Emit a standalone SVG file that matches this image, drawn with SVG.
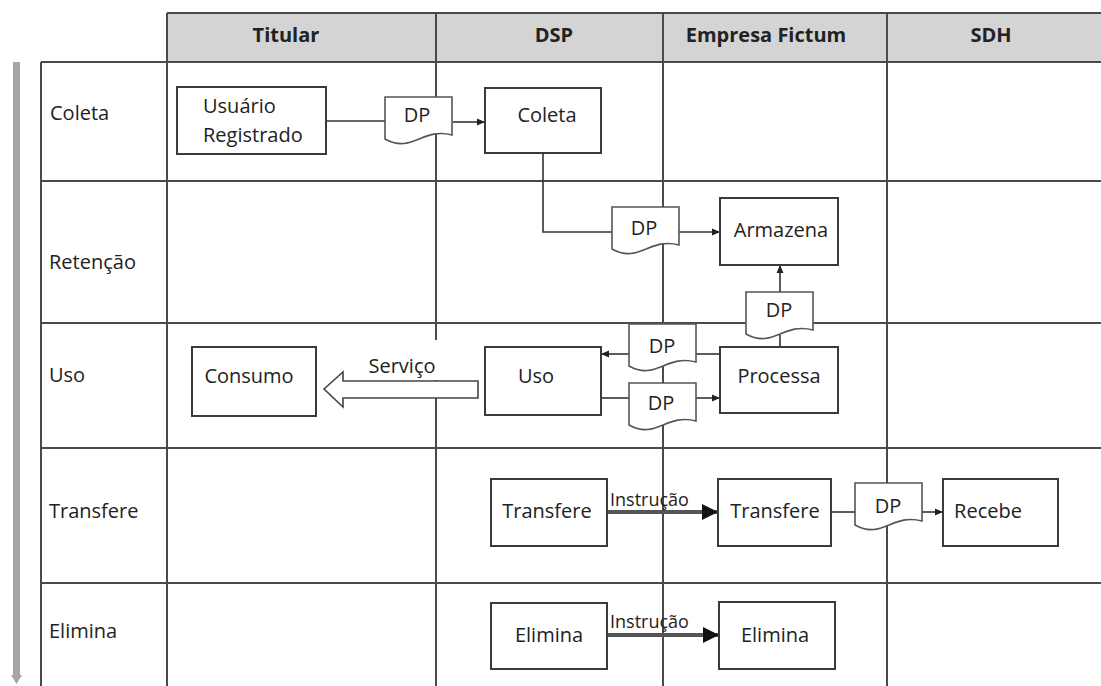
<svg xmlns="http://www.w3.org/2000/svg" width="1101" height="686" viewBox="0 0 1101 686">
<style>
  .grid{stroke:#4a4a4a;stroke-width:2;fill:none}
  .box{fill:#fff;stroke:#3a3a3a;stroke-width:2}
  .doc{fill:#fff;stroke:#555;stroke-width:1.6}
  .t{font-family:"Open Sans","Liberation Sans",sans-serif;font-size:20px;fill:#222}
  .h{font-family:"Open Sans","Liberation Sans",sans-serif;font-size:20px;font-weight:bold;fill:#222;text-anchor:middle}
  .c{text-anchor:middle}
  .ln{stroke:#333;stroke-width:1.6;fill:none}
  .thick{stroke:#555;stroke-width:4;fill:none}
  .small{font-size:18px}
</style>
<defs>
  <marker id="arr" markerUnits="userSpaceOnUse" markerWidth="9" markerHeight="8" refX="8" refY="4" orient="auto">
    <path d="M0,0.5 L8,4 L0,7.5 Z" fill="#222"/>
  </marker>
  <marker id="bigarr" markerUnits="userSpaceOnUse" markerWidth="17" markerHeight="17" refX="16" refY="8" orient="auto">
    <path d="M0,0 L16,8 L0,16 Z" fill="#111"/>
  </marker>
  <path id="docshape" d="M0,0 H67 V38 C37,30 27,57 0,42 Z"/>
</defs>
<rect width="1101" height="686" fill="#fff"/>

<!-- swimlane grid -->
<g id="grid">
  <rect x="167" y="13" width="940" height="49" fill="#d4d4d4"/>
  <path class="grid" d="M167,13 H1101 M41,62 H1101 M41,181 H1101 M41,323 H1101 M41,448 H1101 M41,583 H1101"/>
  <path class="grid" d="M41,62 V686 M167,13 V686 M436,13 V686 M663,13 V686 M887,13 V686"/>
  <rect x="13" y="62" width="7" height="614" fill="#a6a6a6"/>
  <path d="M11,675 H22 L16.5,684 Z" fill="#a6a6a6"/>
  <text class="h" x="286" y="42">Titular</text>
  <text class="h" x="554" y="42">DSP</text>
  <text class="h" x="766" y="42">Empresa Fictum</text>
  <text class="h" x="991" y="42">SDH</text>
  <text class="t" x="50" y="120">Coleta</text>
  <text class="t" x="49" y="269">Retenção</text>
  <text class="t" x="49" y="382">Uso</text>
  <text class="t" x="49" y="518">Transfere</text>
  <text class="t" x="49" y="638">Elimina</text>
</g>

<!-- connectors -->
<g id="connectors">
  <path class="ln" d="M326,121 H385"/>
  <path class="ln" d="M453,122 H485" marker-end="url(#arr)"/>
  <path class="ln" d="M543,153 V232 H612"/>
  <path class="ln" d="M679,232 H720" marker-end="url(#arr)"/>
  <path class="ln" d="M780,348 V335"/>
  <path class="ln" d="M780,292 V265" marker-end="url(#arr)"/>
  <path class="ln" d="M720,354 H696"/>
  <path class="ln" d="M629,354 H601" marker-end="url(#arr)"/>
  <path class="ln" d="M601,398 H629"/>
  <path class="ln" d="M696,398 H720" marker-end="url(#arr)"/>
  <path class="ln" d="M831,512 H855"/>
  <path class="ln" d="M921,512 H943" marker-end="url(#arr)"/>
  <path class="thick" d="M607,512 H718" marker-end="url(#bigarr)"/>
  <path class="thick" d="M607,635 H719" marker-end="url(#bigarr)"/>
  <text class="t small" x="610" y="506">Instrução</text>
  <text class="t small" x="610" y="628">Instrução</text>
  <rect x="364" y="340" width="76" height="40" fill="#fff"/>
  <text class="t c" x="402" y="373">Serviço</text>
  <polygon points="324,389 343,372 343,381 478,381 478,398 343,398 343,407" fill="#fff" stroke="#444" stroke-width="1.6" stroke-linejoin="miter"/>
</g>

<!-- nodes -->
<g id="n-usuario">
  <rect class="box" x="177" y="87" width="149" height="67"/>
  <text class="t" x="203" y="113">Usuário</text>
  <text class="t" x="203" y="142">Registrado</text>
</g>
<g id="n-dp1">
  <use href="#docshape" class="doc" x="385" y="97"/>
  <text class="t c" x="417" y="122">DP</text>
</g>
<g id="n-coleta">
  <rect class="box" x="485" y="88" width="116" height="65"/>
  <text class="t c" x="547" y="122">Coleta</text>
</g>
<g id="n-dp2">
  <use href="#docshape" class="doc" x="612" y="207"/>
  <text class="t c" x="644" y="235">DP</text>
</g>
<g id="n-armazena">
  <rect class="box" x="720" y="198" width="118" height="67"/>
  <text class="t c" x="781" y="237">Armazena</text>
</g>
<g id="n-dp3">
  <use href="#docshape" class="doc" x="746" y="292"/>
  <text class="t c" x="779" y="317">DP</text>
</g>
<g id="n-dp4">
  <use href="#docshape" class="doc" x="629" y="324"/>
  <text class="t c" x="662" y="353">DP</text>
</g>
<g id="n-dp5">
  <use href="#docshape" class="doc" x="629" y="383"/>
  <text class="t c" x="661" y="410">DP</text>
</g>
<g id="n-processa">
  <rect class="box" x="720" y="347" width="118" height="66"/>
  <text class="t c" x="779" y="383">Processa</text>
</g>
<g id="n-uso">
  <rect class="box" x="485" y="347" width="116" height="68"/>
  <text class="t c" x="536" y="383">Uso</text>
</g>
<g id="n-consumo">
  <rect class="box" x="192" y="347" width="124" height="69"/>
  <text class="t c" x="249" y="383">Consumo</text>
</g>
<g id="n-transfere-dsp">
  <rect class="box" x="491" y="479" width="116" height="67"/>
  <text class="t c" x="547" y="518">Transfere</text>
</g>
<g id="n-transfere-emp">
  <rect class="box" x="718" y="479" width="113" height="67"/>
  <text class="t c" x="775" y="518">Transfere</text>
</g>
<g id="n-dp6">
  <use href="#docshape" class="doc" x="855" y="483"/>
  <text class="t c" x="888" y="513">DP</text>
</g>
<g id="n-recebe">
  <rect class="box" x="943" y="479" width="115" height="67"/>
  <text class="t c" x="988" y="518">Recebe</text>
</g>
<g id="n-elimina-dsp">
  <rect class="box" x="491" y="603" width="116" height="66"/>
  <text class="t c" x="549" y="642">Elimina</text>
</g>
<g id="n-elimina-emp">
  <rect class="box" x="719" y="602" width="116" height="67"/>
  <text class="t c" x="775" y="642">Elimina</text>
</g>
</svg>
